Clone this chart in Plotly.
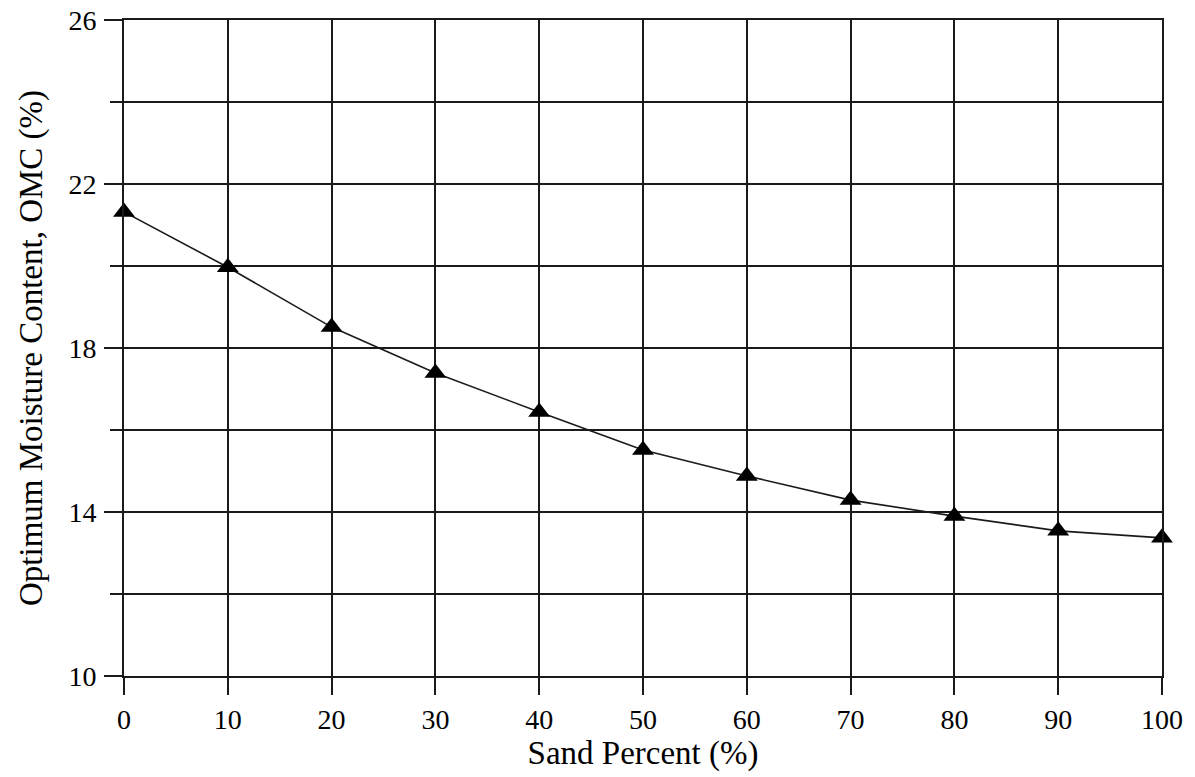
import plotly.graph_objects as go

sand_percent = [0, 10, 20, 30, 40, 50, 60, 70, 80, 90, 100]
omc = [21.32, 19.97, 18.51, 17.39, 16.44, 15.51, 14.88, 14.29, 13.90, 13.54, 13.37]

x_ticks = [0, 10, 20, 30, 40, 50, 60, 70, 80, 90, 100]
y_ticks = [10, 14, 18, 22, 26]

FONT = "Liberation Serif, Times New Roman, serif"
LINE = "#1a1a1a"

fig = go.Figure()
fig.add_trace(go.Scatter(
    x=sand_percent, y=omc, mode="lines+markers",
    line=dict(color=LINE, width=1.6),
    marker=dict(symbol="triangle-up", size=19, color="black"),
    cliponaxis=False,
    showlegend=False,
))

fig.update_layout(
    width=1195, height=777,
    margin=dict(l=124, r=33, t=20, b=101, autoexpand=False),
    paper_bgcolor="white", plot_bgcolor="white",
    font=dict(family=FONT, size=28, color="black"),
)
fig.update_xaxes(
    range=[0, 100], tickvals=x_ticks, ticktext=[str(v) for v in x_ticks],
    ticks="outside", ticklen=17, tickwidth=2, tickcolor=LINE,
    showgrid=True, gridcolor=LINE, gridwidth=2,
    showline=True, linecolor=LINE, linewidth=2, mirror=True,
    zeroline=False, automargin=False,
    title=dict(text="Sand Percent (%)", font=dict(size=33, family=FONT), standoff=2),
    tickfont=dict(size=28, family=FONT),
)
fig.update_yaxes(
    range=[10, 26], tickvals=y_ticks, ticktext=[str(v) for v in y_ticks],
    ticks="outside", ticklen=18, tickwidth=2, tickcolor=LINE,
    showgrid=True, gridcolor=LINE, gridwidth=2,
    minor=dict(dtick=2, tick0=10, ticks="outside", ticklen=12, tickwidth=2,
               tickcolor=LINE, showgrid=True, gridcolor=LINE, gridwidth=2),
    showline=True, linecolor=LINE, linewidth=2, mirror=True,
    zeroline=False, automargin=False,
    title=dict(text="Optimum Moisture Content, OMC (%)", font=dict(size=33, family=FONT), standoff=16),
    tickfont=dict(size=28, family=FONT),
    ticklabelstandoff=2,
)

fig.write_html("out.html")
